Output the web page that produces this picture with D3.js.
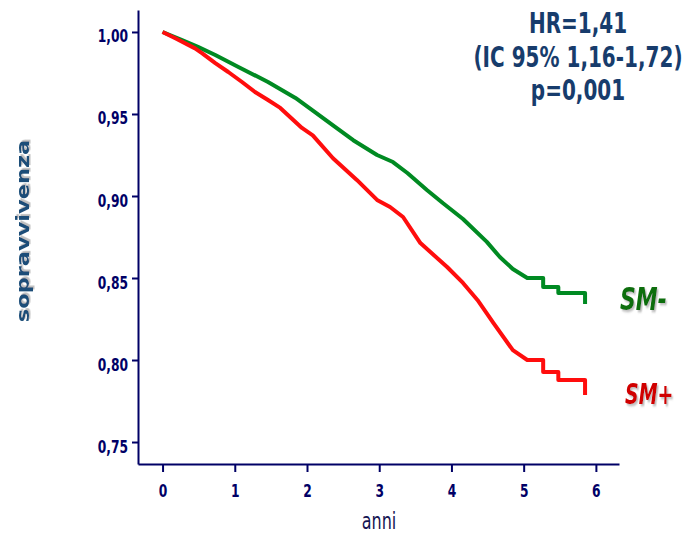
<!DOCTYPE html>
<meta charset="utf-8">
<html lang="it">
<head>
<title>Sopravvivenza SM- / SM+</title>
<script src="https://d3js.org/d3.v7.min.js"></script>
<style>
  body { margin: 0; background: #fff; }
  .axis path, .axis line { stroke: #000066; stroke-width: 2; fill: none; }
  .axis text { font: bold 12.3px "DejaVu Sans", Verdana, sans-serif; fill: #000066; }
</style>
</head>
<body>
<svg width="682" height="535"></svg>
<script>
// Kaplan-Meier curves (years, survival)
var greenTime = [0, 0.27, 0.49, 0.73, 1.05, 1.46, 1.84, 2.11, 2.36, 2.64, 2.97, 3.19, 3.39, 3.66, 3.88, 4.16, 4.49, 4.67, 4.85, 5.05, 5.27, 5.27, 5.48, 5.48, 5.85, 5.85];
var greenSurv = [1.0, 0.995, 0.9909, 0.986, 0.9787, 0.9695, 0.9598, 0.9512, 0.943, 0.934, 0.925, 0.9207, 0.914, 0.9037, 0.8957, 0.886, 0.872, 0.8628, 0.8555, 0.85, 0.85, 0.8445, 0.8445, 0.8409, 0.8409, 0.8341];
var redTime = [0, 0.17, 0.45, 0.55, 0.73, 0.91, 1.1, 1.28, 1.46, 1.63, 1.93, 2.08, 2.36, 2.69, 2.97, 3.15, 3.33, 3.57, 3.94, 4.16, 4.36, 4.58, 4.85, 5.05, 5.27, 5.27, 5.48, 5.48, 5.85, 5.85];
var redSurv = [1.0, 0.9963, 0.990, 0.987, 0.981, 0.9756, 0.9695, 0.9634, 0.9585, 0.9537, 0.9415, 0.937, 0.923, 0.9098, 0.8976, 0.8933, 0.8872, 0.8713, 0.8567, 0.847, 0.8366, 0.8226, 0.806, 0.80, 0.80, 0.7927, 0.7927, 0.7878, 0.7878, 0.7787];

var xTicks = [0, 1, 2, 3, 4, 5, 6];
var yTicks = [1.00, 0.95, 0.90, 0.85, 0.80, 0.75];
var yTickLabels = ["1,00", "0,95", "0,90", "0,85", "0,80", "0,75"];
var statLines = ["HR=1,41", "(IC 95% 1,16-1,72)", "p=0,001"];
var seriesNames = ["SM-", "SM+"];

var stretch = 1.45; // the picture's text is tall and narrow
var svg = d3.select("svg");

// soft shadow used by the labels
var defs = svg.append("defs");
defs.append("filter").attr("id", "shade")
    .attr("x", "-10%").attr("y", "-10%").attr("width", "130%").attr("height", "140%")
    .append("feDropShadow")
    .attr("dx", 1.5).attr("dy", 1.5).attr("stdDeviation", 0.6)
    .attr("flood-color", "#888").attr("flood-opacity", 0.55);

var x = d3.scaleLinear().domain([-0.34, 6.32]).range([138, 619]);
var y = d3.scaleLinear().domain([0.7366, 1.0134]).range([464, 10]);

// X axis
var gx = svg.append("g")
    .attr("class", "axis")
    .attr("transform", "translate(0,464)")
    .call(d3.axisBottom(x).tickValues(xTicks).tickSize(8).tickSizeOuter(0).tickFormat(d3.format("d")));
gx.selectAll("text")
    .attr("y", 0).attr("dy", 0)
    .attr("transform", "scale(1," + stretch + ") translate(0," + (33 / stretch) + ")");

// Y axis
var gy = svg.append("g")
    .attr("class", "axis")
    .attr("transform", "translate(138,0)")
    .call(d3.axisLeft(y).tickValues(yTicks).tickSize(6).tickSizeOuter(0)
        .tickFormat(function(d, i) { return yTickLabels[i]; }));
gy.selectAll("text")
    .attr("x", -10).attr("dy", 0).attr("y", 0)
    .attr("transform", "scale(1," + stretch + ") translate(0,6.9)");

// curves
var line = d3.line()
    .x(function(d) { return x(d[0]); })
    .y(function(d) { return y(d[1]); });

var series = [
    { name: seriesNames[0], pts: d3.zip(greenTime, greenSurv), color: "#008a22" },
    { name: seriesNames[1], pts: d3.zip(redTime, redSurv), color: "#ff0d0d" }
];

svg.selectAll("path.curve")
    .data(series)
    .enter().append("path")
    .attr("class", "curve")
    .attr("d", function(d) { return line(d.pts); })
    .attr("fill", "none")
    .attr("stroke", function(d) { return d.color; })
    .attr("stroke-width", 4)
    .attr("stroke-linejoin", "round");

// helper for the stretched text
function tallText(px, py, str, font, color, anchor, shadow) {
    var t = svg.append("g").attr("transform", "translate(" + px + "," + py + ") scale(1," + stretch + ")")
        .append("text")
        .attr("text-anchor", anchor)
        .style("font", font)
        .attr("fill", color)
        .text(str);
    if (shadow) t.attr("filter", "url(#shade)");
}

// HR box
statLines.forEach(function(s, i) {
    tallText(578, 33 + i * 33.5, s, "bold 20px 'DejaVu Sans', sans-serif", "#173c6c", "middle");
});

// series labels
tallText(620, 310, seriesNames[0], "bold italic 22px 'DejaVu Sans', sans-serif", "#0a6e0a", "start", true);
tallText(625, 404, seriesNames[1], "bold italic 19px 'DejaVu Sans', sans-serif", "#d00000", "start", true);

// x title
tallText(379, 529, "anni", "16px 'DejaVu Sans', sans-serif", "#141452", "middle");

// y title
svg.append("g").attr("transform", "translate(29,231) rotate(-90) scale(1.25,1)")
    .append("text")
    .attr("text-anchor", "middle")
    .attr("filter", "url(#shade)")
    .style("font", "bold 18px 'DejaVu Sans', sans-serif")
    .attr("fill", "#1b4d78")
    .text("sopravvivenza");
</script>
</body>
</html>
